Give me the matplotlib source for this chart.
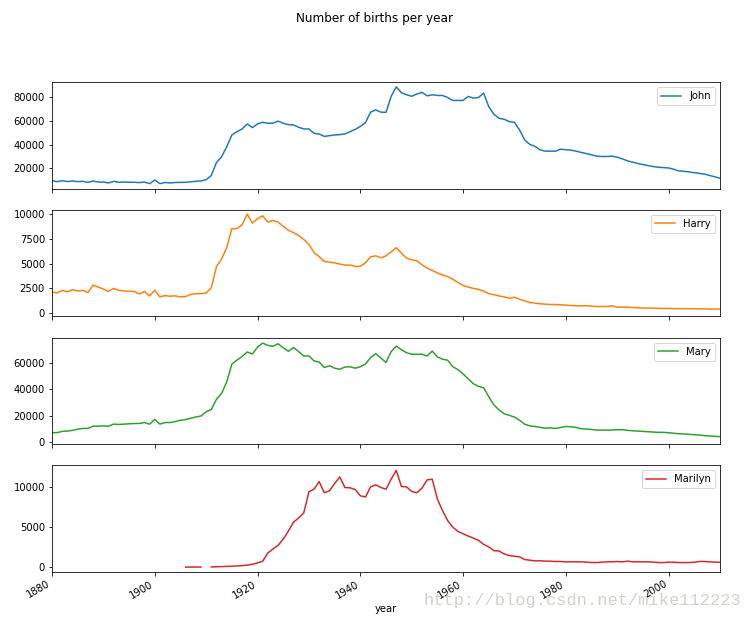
import numpy as np
import pandas as pd
import matplotlib
matplotlib.use('Agg')
from matplotlib import pyplot as plt

nan = np.nan

years = list(range(1880, 2011))

john = [9700, 8800, 9600, 8900, 9400, 8800, 9100, 8200, 9300, 8500,
        8500, 7700, 9100, 8200, 8500, 8300, 8300, 8000, 8500, 7100,
        10200, 7100, 8100, 7700, 8100, 8200, 8300, 8700, 9100, 9400,
        10500, 14000, 25000, 29800, 38300, 48300, 51100, 53400, 57600, 54500,
        57600, 59000, 58200, 58300, 60000, 58200, 57000, 56800, 54800, 53400,
        53400, 49700, 49100, 47100, 47700, 48300, 48600, 49100, 51000, 53000,
        55500, 58700, 67600, 69500, 67600, 67400, 81000, 89000, 84000, 82300,
        81000, 82900, 84400, 81400, 82300, 81700, 81700, 80000, 77500, 77500,
        77500, 80900, 79500, 80000, 83700, 72300, 65800, 62400, 61600, 59600,
        59000, 52500, 44000, 40300, 38600, 35700, 34600, 34600, 34600, 36300,
        35800, 35500, 34600, 33500, 32600, 31500, 30400, 30100, 30100, 30400,
        29500, 28100, 26400, 25300, 24200, 23300, 22400, 21600, 21000, 20700,
        20400, 19300, 17900, 17600, 17000, 16400, 15800, 15200, 14000, 12900, 11700]

harry = [2150, 2050, 2310, 2150, 2380, 2250, 2300, 2100, 2840, 2640,
         2440, 2200, 2510, 2310, 2250, 2230, 2200, 1950, 2200, 1750,
         2330, 1650, 1790, 1720, 1760, 1650, 1680, 1910, 1980, 1980,
         2050, 2570, 4690, 5450, 6600, 8510, 8510, 8910, 9970, 9070,
         9500, 9800, 9170, 9340, 9170, 8740, 8350, 8110, 7820, 7420,
         6930, 6100, 5700, 5210, 5140, 5080, 4950, 4850, 4850, 4720,
         4720, 5080, 5680, 5780, 5580, 5780, 6170, 6600, 6040, 5550,
         5380, 5280, 4880, 4550, 4320, 4060, 3860, 3700, 3430, 3100,
         2800, 2640, 2510, 2410, 2240, 1980, 1880, 1750, 1650, 1520,
         1620, 1420, 1250, 1090, 1020, 960, 920, 890, 890, 860,
         820, 790, 760, 760, 760, 720, 690, 690, 690, 760,
         620, 620, 620, 590, 560, 530, 530, 530, 500, 500,
         500, 470, 470, 470, 470, 470, 450, 450, 430, 430, 430]

mary = [7380, 7400, 8340, 8600, 9090, 10040, 10550, 10550, 12250, 12250,
        12500, 12250, 13780, 13530, 13780, 14020, 14270, 14270, 15000, 13780,
        17440, 13780, 15000, 15000, 15740, 16720, 17220, 18200, 19180, 19920,
        23100, 24800, 32500, 36900, 45500, 59000, 62000, 64700, 68100, 66600,
        71800, 74800, 73100, 72400, 74300, 71300, 68600, 71500, 68400, 65000,
        65200, 61300, 60500, 56400, 57800, 55900, 55100, 56800, 57000, 55900,
        57000, 59000, 63900, 66900, 63600, 60200, 68400, 72500, 69800, 67600,
        66400, 66400, 66400, 65100, 68800, 64400, 62700, 61900, 57000, 54800,
        51600, 47900, 44200, 42200, 41200, 34400, 28200, 24500, 21600, 20400,
        19100, 16700, 13700, 12500, 12000, 11300, 10800, 11000, 10500, 11300,
        12000, 11800, 11300, 10300, 10100, 9800, 9300, 9300, 9300, 9300,
        9600, 9600, 9100, 8800, 8600, 8300, 8100, 7800, 7600, 7600,
        7300, 6900, 6600, 6400, 6100, 5800, 5600, 5100, 4900, 4600, 4400]

# no records before 1906 and in 1910
marilyn = [nan] * 26 + [
    40, 50, 50, 60,
    nan, 70, 90, 100, 120, 150, 190, 230, 290, 400,
    560, 770, 1790, 2280, 2730, 3510, 4490, 5590, 6120, 6740,
    9350, 9680, 10610, 9230, 9470, 10370, 11190, 9880, 9840, 9630,
    8860, 8700, 9960, 10210, 9880, 9670, 10900, 12000, 10000, 9960,
    9390, 9230, 9800, 10820, 10900, 8450, 7020, 5800, 4980, 4450,
    4160, 3880, 3630, 3350, 2860, 2530, 2080, 2040, 1670, 1470,
    1390, 1310, 980, 900, 820, 820, 780, 780, 740, 740,
    700, 700, 700, 700, 650, 610, 610, 650, 700, 700,
    740, 700, 780, 700, 700, 700, 700, 650, 610, 610,
    650, 650, 610, 610, 610, 650, 740, 740, 700, 650, 650]

df = pd.DataFrame({'John': john, 'Harry': harry, 'Mary': mary, 'Marilyn': marilyn},
                  index=pd.Index(years, name='year'))

axes = df.plot(subplots=True, figsize=(748 / 72, 620 / 72), grid=False,
               title='Number of births per year', legend=False)
fig = axes[0].get_figure()
fig.subplots_adjust(left=52 / 748, right=720 / 748, top=1 - 82 / 620,
                    bottom=1 - 572 / 620, hspace=0.2)

for ax in axes:
    ax.legend(loc='upper right')
    ax.set_xlim(1880, 2010)
axes[1].set_ylim(-300, 10400)
axes[2].set_ylim(-1300, 78900)

for lbl in axes[-1].get_xticklabels():
    lbl.set_rotation(30)
    lbl.set_ha('right')

fig.text(423 / 748, 15 / 620, 'http://blog.csdn.net/mike112223',
         family='Liberation Mono', fontsize=17, color='#d2d2cc')

fig.savefig('out.png', dpi=72)
